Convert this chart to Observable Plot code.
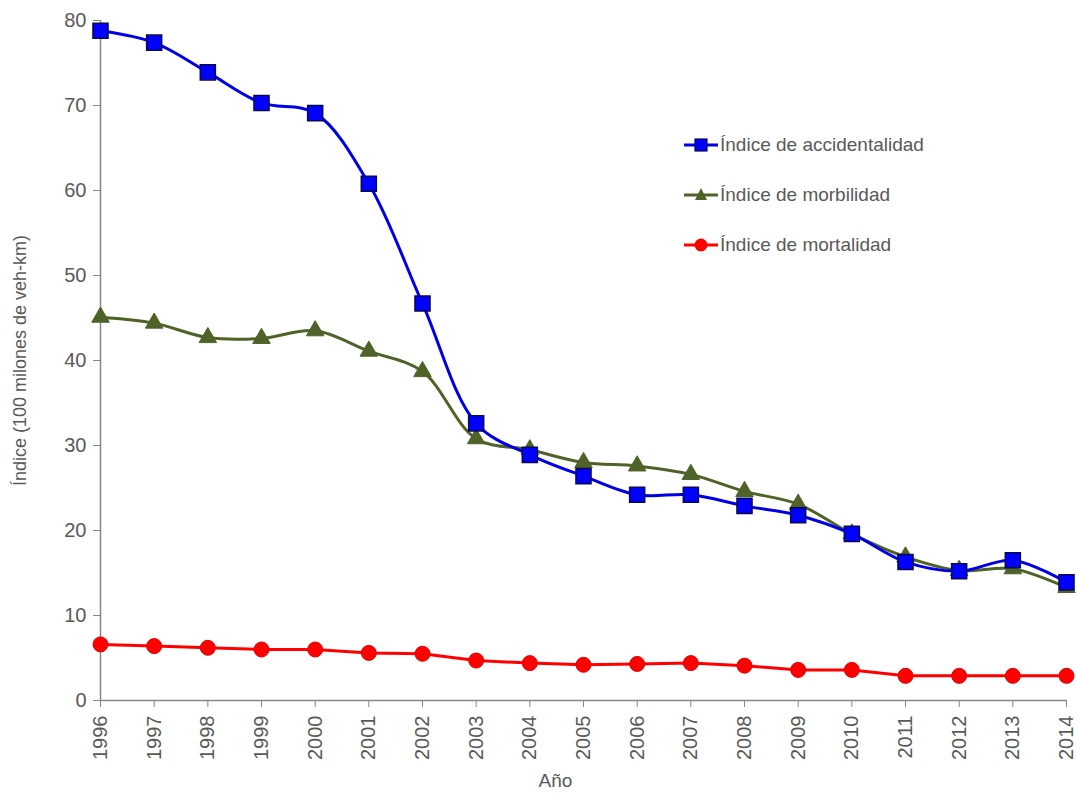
<!DOCTYPE html>
<html>
<head>
<meta charset="utf-8">
<script src="https://cdn.jsdelivr.net/npm/d3@7"></script>
<script src="https://cdn.jsdelivr.net/npm/@observablehq/plot@0.6"></script>
<style>
  body { margin: 0; background: #fff; }
  #wrap { position: relative; width: 1077px; height: 797px; font-family: 'Liberation Sans Narrow', 'Arial Narrow', sans-serif; color: #595959; }
  #legend { position: absolute; left: 684px; top: 128px; font-size: 19px; }
  #legend .row { display: flex; align-items: center; height: 34px; margin-bottom: 16px; }
  #legend svg { margin-right: 2px; }
</style>
</head>
<body>
<div id="wrap"><div id="legend"></div></div>
<script>
const years = [1996,1997,1998,1999,2000,2001,2002,2003,2004,2005,2006,2007,2008,2009,2010,2011,2012,2013,2014];
const accidentalidad = [78.8,77.4,73.9,70.3,69.1,60.8,46.7,32.6,28.9,26.4,24.2,24.2,22.9,21.8,19.6,16.3,15.2,16.5,13.9];
const morbilidad = [45.1,44.4,42.7,42.6,43.5,41.1,38.7,30.8,29.5,28.0,27.6,26.6,24.6,23.1,19.6,16.9,15.3,15.5,13.3];
const mortalidad = [6.6,6.4,6.2,6.0,6.0,5.6,5.5,4.7,4.4,4.2,4.3,4.4,4.1,3.6,3.6,2.9,2.9,2.9,2.9];
const yTicks = [0,10,20,30,40,50,60,70,80];
const seriesNames = ["Índice de accidentalidad","Índice de morbilidad","Índice de mortalidad"];

const acc = years.map((y,i)=>({year:y, value:accidentalidad[i]}));
const mor = years.map((y,i)=>({year:y, value:morbilidad[i]}));
const mrt = years.map((y,i)=>({year:y, value:mortalidad[i]}));

const axisColor = "#868686";
const chart = Plot.plot({
  width: 1077,
  height: 797,
  marginLeft: 100,
  marginRight: 11,
  marginTop: 20,
  marginBottom: 97,
  style: {fontFamily: "'Liberation Sans Narrow', 'Arial Narrow', sans-serif", fontSize: "20px", color: "#595959", background: "transparent"},
  x: {domain: [1996, 2014]},
  y: {domain: [0, 80]},
  marks: [
    Plot.ruleX([1996], {stroke: axisColor, strokeWidth: 1.5}),
    Plot.ruleY([0], {stroke: axisColor, strokeWidth: 1.5}),
    Plot.axisY({ticks: yTicks, tickSize: 7, tickPadding: 7, stroke: axisColor, label: null}),
    Plot.axisX({ticks: years, tickFormat: d => String(d), tickSize: 7, tickPadding: 8, tickRotate: -90, stroke: axisColor, label: null}),
    Plot.text(["Índice (100 milones de veh-km)"], {frameAnchor: "left", textAnchor: "middle", dx: -80, rotate: -90, fill: "#595959", fontSize: 18}),
    Plot.text(["Año"], {frameAnchor: "bottom", dy: 86, dx: -28, fill: "#595959", fontSize: 19}),
    Plot.line(mrt, {x: "year", y: "value", stroke: "#ff0000", strokeWidth: 3}),
    Plot.dot(mrt, {x: "year", y: "value", symbol: "circle", r: 7.5, fill: "#ff0000", stroke: "#e00000", strokeWidth: 1}),
    Plot.line(mor, {x: "year", y: "value", stroke: "#4f6228", strokeWidth: 3, curve: "catmull-rom"}),
    Plot.dot(mor, {x: "year", y: "value", symbol: "triangle", r: 6.5, fill: "#4f6228", stroke: "#4f6228", strokeWidth: 1}),
    Plot.line(acc, {x: "year", y: "value", stroke: "#0000e6", strokeWidth: 3, curve: "catmull-rom"}),
    Plot.dot(acc, {x: "year", y: "value", symbol: "square", r: 8.5, fill: "#0000ff", stroke: "#0a0a50", strokeWidth: 1.5})
  ]
});
document.getElementById("wrap").prepend(chart);

const legendSpec = [
  {color: "#0000e6", fill: "#0000ff", stroke: "#0a0a50", shape: "square"},
  {color: "#4f6228", fill: "#4f6228", stroke: "#4f6228", shape: "triangle"},
  {color: "#ff0000", fill: "#ff0000", stroke: "#e00000", shape: "circle"}
];
const legend = document.getElementById("legend");
seriesNames.forEach((name, i) => {
  const s = legendSpec[i];
  let sym;
  if (s.shape === "square") sym = `<rect x="11" y="7" width="12" height="12" fill="${s.fill}" stroke="${s.stroke}" stroke-width="1.2"/>`;
  else if (s.shape === "triangle") sym = `<path d="M17,6 L23,18 L11,18 Z" fill="${s.fill}"/>`;
  else sym = `<circle cx="17" cy="13" r="6.5" fill="${s.fill}"/>`;
  const row = document.createElement("div");
  row.className = "row";
  row.innerHTML = `<svg width="34" height="26"><line x1="0" x2="34" y1="13" y2="13" stroke="${s.color}" stroke-width="3"/>${sym}</svg><span>${name}</span>`;
  legend.appendChild(row);
});
</script>
</body>
</html>
